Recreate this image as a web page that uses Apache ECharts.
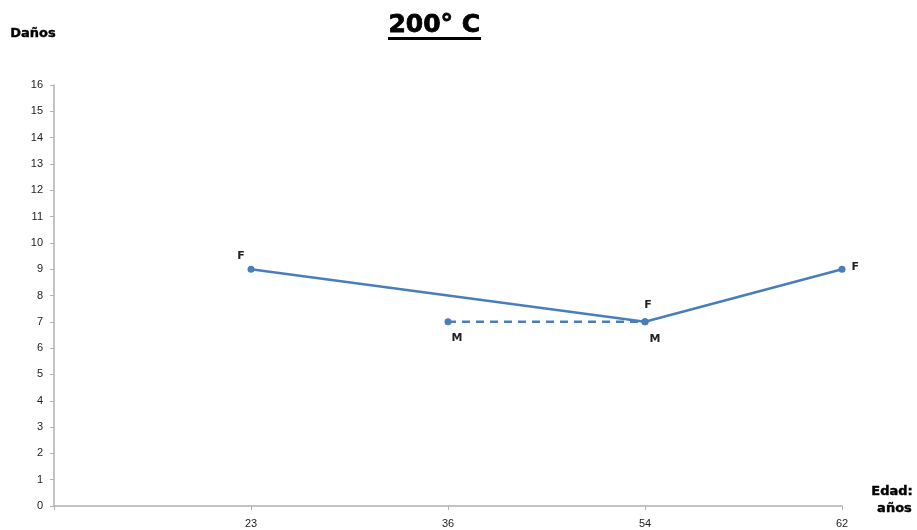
<!DOCTYPE html>
<html>
<head>
<meta charset="utf-8">
<script src="https://cdn.jsdelivr.net/npm/echarts@6/dist/echarts.min.js"></script>
<style>html,body{margin:0;padding:0;background:#fff}#c{width:917px;height:530px}</style>
</head>
<body>
<div id="c"></div>
<script>
const categories = ['', '23', '36', '54', '62'];
const seriesF = [null, 9, null, 7, 9];
const seriesM = [null, null, 7, 7, null];
const labelsF = ['', 'F', '', 'F', 'F'];
const labelsM = ['', '', 'M', 'M', ''];
const yTicks = { min: 0, max: 16, interval: 1 };

const blue = '#4a7ebb';
const labelStyle = { fontFamily: 'DejaVu Sans', fontWeight: 'bold', fontSize: 11, color: '#222' };

// label placement (style only)
const fPlace = [null, { position: 'top', offset: [-10, 1] }, null, { position: 'top', offset: [3, -3] }, { position: 'right', offset: [1, -2] }];
const mPlace = [null, null, { position: 'bottom', offset: [9, 2] }, { position: 'bottom', offset: [10, 3] }, null];

function build(vals, labels, place) {
  return vals.map((v, i) => {
    if (v === null) return null;
    const p = place[i] || { position: 'top' };
    return { value: v, label: Object.assign({ show: !!labels[i], formatter: labels[i] }, labelStyle, p) };
  });
}

const chart = echarts.init(document.getElementById('c'));
chart.setOption({
  animation: false,
  grid: { left: 54, right: 75, top: 85, bottom: 24 },
  graphic: [
    { type: 'text', left: 388, top: 13, style: { text: '200° C', font: 'bold 25px "DejaVu Sans"', fill: '#000', stroke: '#000', lineWidth: 0.8 } },
    { type: 'rect', shape: { x: 388, y: 37, width: 93, height: 3 }, style: { fill: '#000' } },
    { type: 'text', left: 10, top: 27, style: { text: 'Daños', font: 'bold 13px "DejaVu Sans"', fill: '#000', stroke: '#000', lineWidth: 0.4 } },
    { type: 'text', right: 4, top: 485, style: { text: 'Edad:', font: 'bold 13px "DejaVu Sans"', fill: '#000', stroke: '#000', lineWidth: 0.4 } },
    { type: 'text', right: 5, top: 502, style: { text: 'años', font: 'bold 13px "DejaVu Sans"', fill: '#000', stroke: '#000', lineWidth: 0.4 } }
  ],
  xAxis: {
    type: 'category',
    data: categories,
    boundaryGap: false,
    axisLine: { lineStyle: { color: '#b0b0b0', width: 1.5 } },
    axisTick: { show: true, length: 4, lineStyle: { color: '#b0b0b0' } },
    axisLabel: { margin: 12, fontSize: 11, color: '#222', fontFamily: 'Liberation Sans' },
    splitLine: { show: false }
  },
  yAxis: {
    type: 'value',
    min: yTicks.min, max: yTicks.max, interval: yTicks.interval,
    axisLine: { show: true, lineStyle: { color: '#b0b0b0', width: 1.5 } },
    axisTick: { show: true, length: 4, lineStyle: { color: '#b0b0b0' } },
    axisLabel: { margin: 11, fontSize: 11, color: '#222', fontFamily: 'Liberation Sans' },
    splitLine: { show: false }
  },
  series: [
    {
      name: 'F', type: 'line', data: build(seriesF, labelsF, fPlace), connectNulls: true,
      symbol: 'circle', symbolSize: 7, itemStyle: { color: blue },
      lineStyle: { color: blue, width: 2.5 }
    },
    {
      name: 'M', type: 'line', data: build(seriesM, labelsM, mPlace), connectNulls: true,
      symbol: 'circle', symbolSize: 7, itemStyle: { color: blue },
      lineStyle: { color: blue, width: 2.5, type: [8, 6] }
    }
  ]
});
</script>
</body>
</html>
